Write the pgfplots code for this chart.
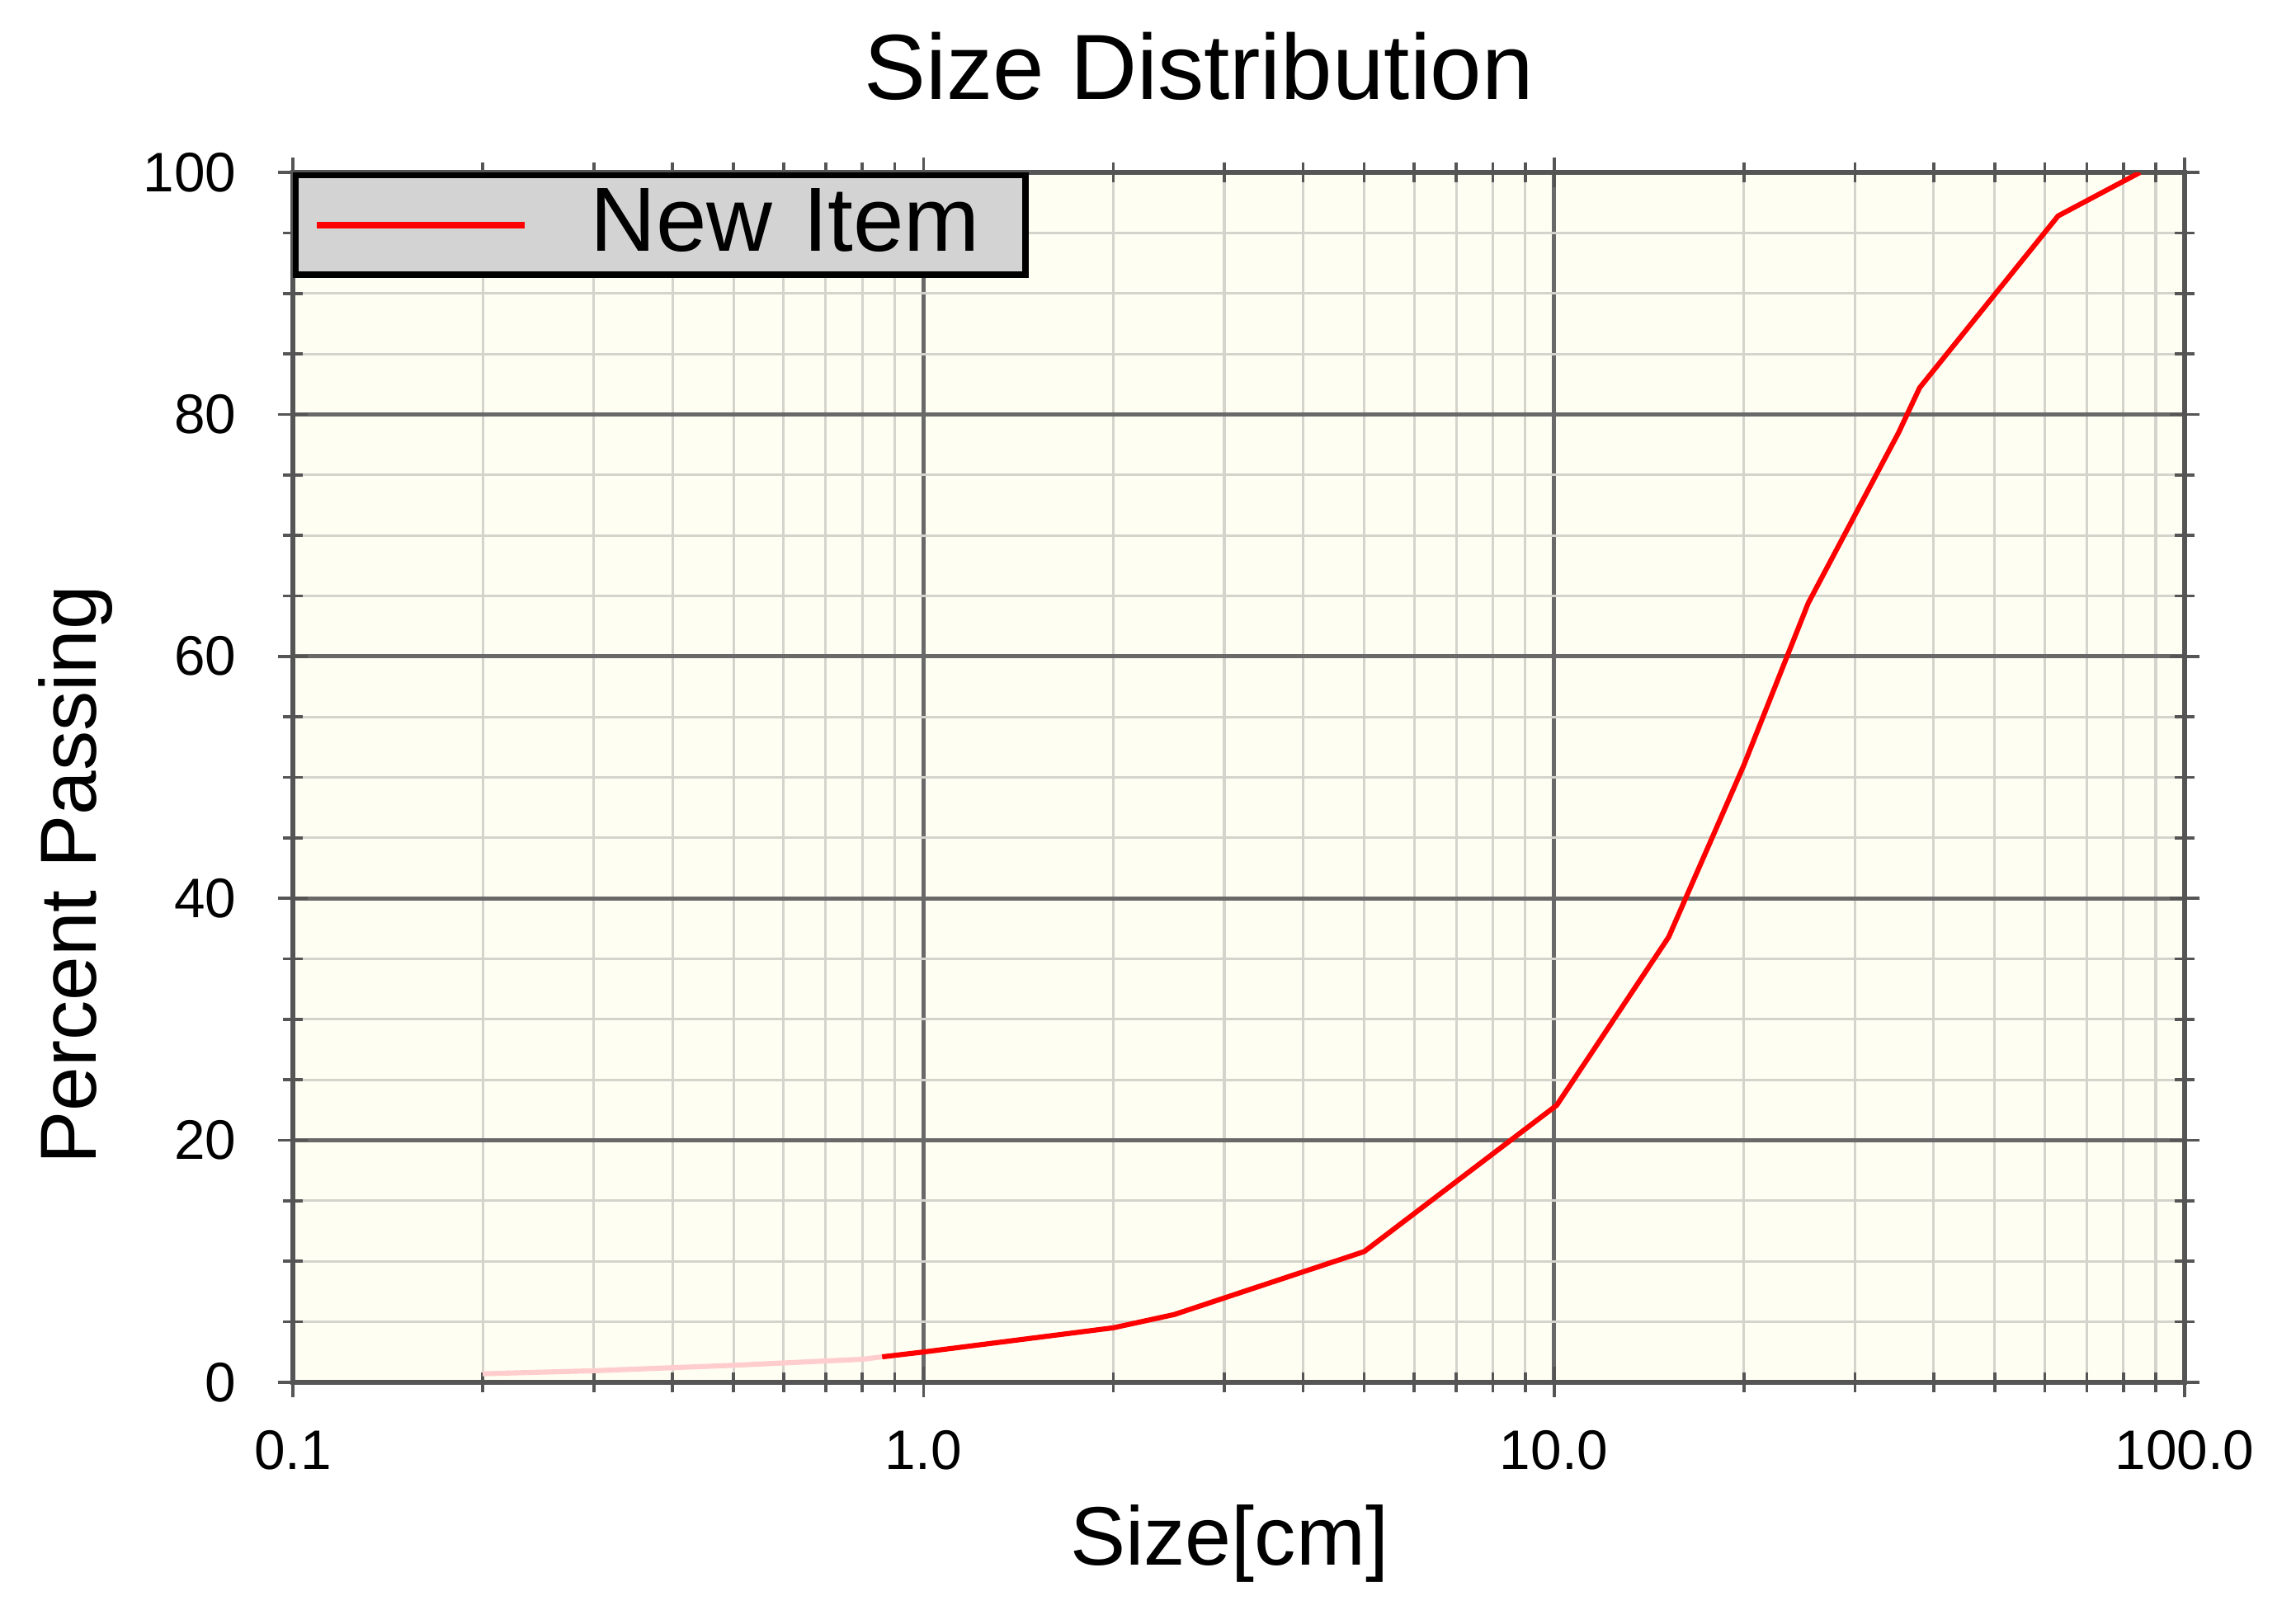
\documentclass[border=0pt]{standalone}
\usepackage{pgfplots}
\pgfplotsset{compat=1.18}
\usepackage{fontspec}
\setmainfont{Liberation Sans}

\definecolor{plotbg}{RGB}{254,254,243}
\definecolor{majgrid}{RGB}{105,105,105}
\definecolor{mingrid}{RGB}{212,212,204}
\definecolor{legfill}{RGB}{211,211,211}
\definecolor{axisgray}{RGB}{85,85,85}
\definecolor{fadered}{RGB}{255,205,205}

\begin{document}
\begin{tikzpicture}
\begin{axis}[
  scale only axis,
  width=373.6pt, height=239pt,
  xmode=log,
  xmin=0.1, xmax=100, ymin=0, ymax=100,
  axis background/.style={fill=plotbg},
  axis line style={draw=axisgray, line width=0.9pt},
  xtick={0.1,1,10,100},
  xticklabels={0.1,1.0,10.0,100.0},
  ytick={0,20,40,60,80,100},
  yticklabels={0,20,40,60,80,100},
  minor y tick num=3,
  grid=both,
  major grid style={draw=majgrid, line width=0.8pt},
  minor grid style={draw=mingrid, line width=0.5pt},
  tick align=center,
  major tick length=6pt, minor tick length=4pt,
  every tick/.style={draw=axisgray, line width=0.6pt},
  tick label style={font=\fontsize{11}{11}\selectfont},
  xticklabel style={anchor=base, yshift=-14.25pt},
  yticklabel style={anchor=east, inner sep=0pt, xshift=-8pt},
  title={Size Distribution},
  title style={font=\fontsize{18.3}{18.3}\selectfont, anchor=base,
    at={(axis description cs:0.479,1.0351)}},
  xlabel={Size[cm]},
  xlabel style={font=\fontsize{16.4}{16.4}\selectfont, anchor=base,
    at={(axis description cs:0.495,-0.1513)}},
  ylabel={Percent Passing},
  ylabel style={font=\fontsize{15.7}{15.7}\selectfont, anchor=base, rotate=0,
    at={(axis description cs:-0.1039,0.4195)}},
  legend style={at={(axis description cs:0,1)}, anchor=north west,
    fill=legfill, draw=black, line width=1.2pt,
    inner sep=0pt, nodes={inner sep=0pt},
    font=\fontsize{18}{18}\selectfont,
    /tikz/every even column/.append style={nodes={text width=86pt,
      align=left, text height=15pt, text depth=4.6pt}}},
  legend image code/.code={
    \path[draw=none] (0pt,-3pt) rectangle (58.1pt,3pt);
    \draw[#1, line width=1.4pt] (4.2pt,0pt) -- (45.2pt,0pt);
  },
]
  % faded extension of the curve at the fine end
  \addplot[fadered, line width=1pt, forget plot] coordinates {
    (0.2,0.7) (0.3,0.95) (0.5,1.4) (0.8,1.9) (0.86,2.1)
  };
  \addplot[red, line width=1pt] coordinates {
    (0.86,2.1) (1.0,2.5) (2.0,4.5) (2.5,5.6) (5.0,10.8) (6.2,14.5)
    (10.1,22.9) (15.2,36.8) (20,51) (25.3,64.4) (35.2,78.5) (38,82.2)
    (63,96.4) (85,100)
  };
  \addlegendentry{New Item}
\end{axis}
\pgfresetboundingbox
\path[use as bounding box] ([shift={(-57.85pt,-44.97pt)}]current axis.south west)
  rectangle ([shift={(22pt,34.06pt)}]current axis.north east);
\end{tikzpicture}
\end{document}
